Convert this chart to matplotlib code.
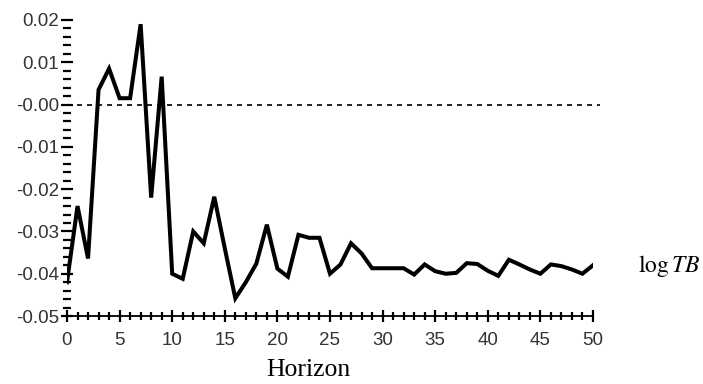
import matplotlib
matplotlib.use("Agg")
import matplotlib.pyplot as plt
from matplotlib.ticker import MultipleLocator, FormatStrFormatter

# impulse response of log TB over the horizon
horizon = list(range(51))
response = [
    -0.0420, -0.0240, -0.0364, 0.0035, 0.0085, 0.0015, 0.0015, 0.0190,
    -0.0220, 0.0066, -0.0400, -0.0412, -0.0300, -0.0328, -0.0218, -0.0340,
    -0.0458, -0.0420, -0.0376, -0.0284, -0.0388, -0.0407, -0.0308, -0.0315,
    -0.0315, -0.0400, -0.0378, -0.0328, -0.0352, -0.0387, -0.0387, -0.0387,
    -0.0387, -0.0402, -0.0378, -0.0394, -0.0400, -0.0398, -0.0375, -0.0377,
    -0.0393, -0.0405, -0.0367, -0.0378, -0.0390, -0.0400, -0.0378, -0.0382,
    -0.0390, -0.0400, -0.0380,
]
series_name = r"$\log TB$"
x_label = "Horizon"

plt.rcParams["mathtext.fontset"] = "stix"

fig = plt.figure(figsize=(7.03, 3.84), dpi=100)
ax = fig.add_axes([0.0953, 0.177, 0.7482, 0.771])

ax.plot(horizon, response, color="black", linewidth=2.9, solid_joinstyle="miter")
ax.axhline(0, color="black", linewidth=1.2, linestyle=(0, (3, 3)), xmax=1.013,
           clip_on=False)

ax.set_xlim(0, 50)
ax.set_ylim(-0.05, 0.02)

ax.xaxis.set_major_locator(MultipleLocator(5))
ax.xaxis.set_minor_locator(MultipleLocator(1))
ax.yaxis.set_major_locator(MultipleLocator(0.01))
ax.yaxis.set_minor_locator(MultipleLocator(0.002))
ax.yaxis.set_major_formatter(FormatStrFormatter("%.2f"))

for side in ("top", "right", "left"):
    ax.spines[side].set_visible(False)
ax.spines["bottom"].set_linewidth(1.3)

ax.tick_params(axis="both", which="major", direction="inout", length=9,
               width=1.6, labelsize=13.5, colors="black")
ax.tick_params(axis="both", which="minor", direction="inout", length=6,
               width=1.6)
ax.tick_params(axis="y", which="both", pad=1)
ax.tick_params(axis="x", which="major", pad=7)
for lbl in ax.get_xticklabels() + ax.get_yticklabels():
    lbl.set_fontfamily("Liberation Sans")
    lbl.set_fontstretch("condensed")
    lbl.set_color("#333333")

fig.text(0.438, 0.02, x_label, fontsize=18.5, family="Liberation Serif",
         ha="center", va="baseline")
fig.text(0.908, 0.292, series_name, fontsize=17, ha="left", va="baseline")

fig.savefig("out.png", dpi=100)
